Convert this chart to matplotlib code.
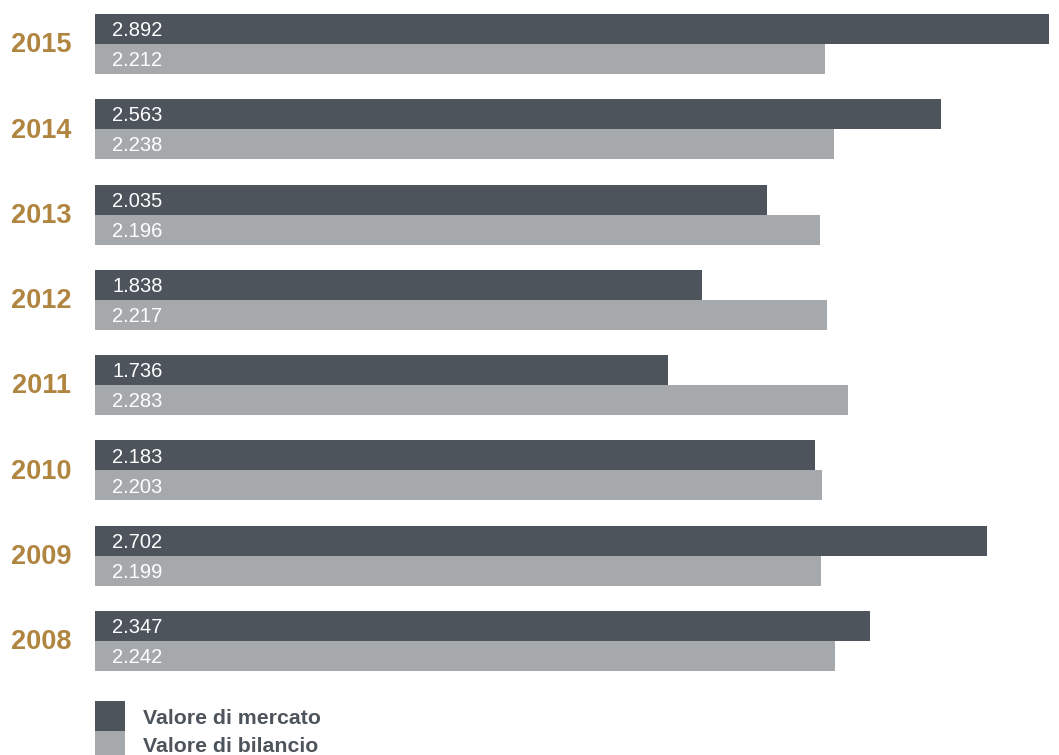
import matplotlib
matplotlib.use("Agg")
import matplotlib.pyplot as plt
from matplotlib.patches import Rectangle
import matplotlib.transforms as mtransforms

years = ["2015", "2014", "2013", "2012", "2011", "2010", "2009", "2008"]
mercato = [2.892, 2.563, 2.035, 1.838, 1.736, 2.183, 2.702, 2.347]
bilancio = [2.212, 2.238, 2.196, 2.217, 2.283, 2.203, 2.199, 2.242]
mercato_labels = ["2.892", "2.563", "2.035", "1.838", "1.736", "2.183", "2.702", "2.347"]
bilancio_labels = ["2.212", "2.238", "2.196", "2.217", "2.283", "2.203", "2.199", "2.242"]
legend_labels = ["Valore di mercato", "Valore di bilancio"]

DARK = "#4d545c"
LIGHT = "#a5a9ac"
GOLD = "#b08540"

W, H = 1059, 755
fig = plt.figure(figsize=(W / 100, H / 100), dpi=100)
fig.patch.set_facecolor("white")

# axes area in pixels
x0, x1 = 95, 1059
y_top, y_bot = 14, 671
ax = fig.add_axes([x0 / W, 1 - y_bot / H, (x1 - x0) / W, (y_bot - y_top) / H])
ax.set_axis_off()

h = 30 / 85.28
n = len(years)
pos = list(range(n))
ax.barh([p - h / 2 for p in pos], mercato, height=h, color=DARK, linewidth=0)
ax.barh([p + h / 2 for p in pos], bilancio, height=h, color=LIGHT, linewidth=0)
ax.set_ylim(n - 1 + h, -h)
ax.set_xlim(0, 964 / 330)

font = "Liberation Sans"
trans = mtransforms.blended_transform_factory(fig.transFigure, ax.transData)
for p, yr, ml, bl in zip(pos, years, mercato_labels, bilancio_labels):
    ax.annotate(ml, xy=(0, p - h / 2), xytext=(12.5, -1.2), textcoords="offset points",
                ha="left", va="center", color="white", fontsize=14.5, family=font)
    ax.annotate(bl, xy=(0, p + h / 2), xytext=(12.5, -1.2), textcoords="offset points",
                ha="left", va="center", color="white", fontsize=14.5, family=font)
    ax.text(41.5 / W, p + 0.015, yr, transform=trans, ha="center", va="center",
            color=GOLD, fontsize=19.5, fontweight="bold", family=font)

# legend
for i, (lab, col) in enumerate(zip(legend_labels, [DARK, LIGHT])):
    top = 701 + 30 * i
    fig.patches.append(Rectangle((95 / W, 1 - (top + 30) / H), 30 / W, 30 / H,
                                 transform=fig.transFigure, color=col, linewidth=0))
    fig.text(143 / W, 1 - (718 + 28 * i) / H, lab, ha="left", va="center",
             color=DARK, fontsize=15.3, fontweight="bold", family=font)

fig.savefig("out.png", dpi=100)
